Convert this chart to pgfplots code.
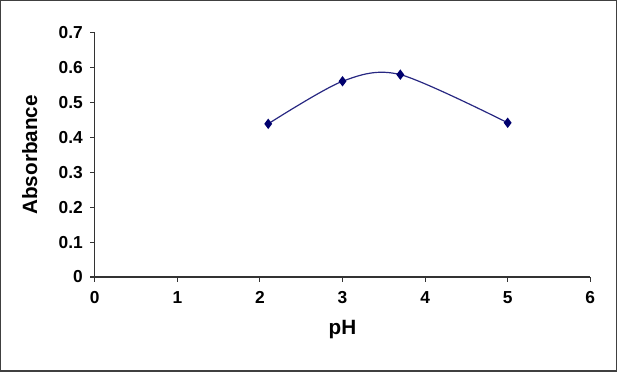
\documentclass[border=0pt]{standalone}
\usepackage{pgfplots}
\pgfplotsset{compat=1.18}
\usepackage{fontspec}
\setmainfont{Liberation Sans}
\definecolor{linecol}{RGB}{40,40,130}
\definecolor{markcol}{RGB}{0,0,110}
\begin{document}
\begin{tikzpicture}
\draw[black!75, line width=1.1pt] (-70.5pt,-70.5pt) rectangle (390.75pt,207pt);
\begin{axis}[
  at={(0pt,0pt)}, anchor=origin,
  scale only axis,
  width=371.25pt, height=183pt,
  xmin=0, xmax=6, ymin=0, ymax=0.7,
  axis x line*=bottom, axis y line*=left,
  axis line style={black!80, line width=0.9pt},
  xtick={0,1,...,6},
  ytick={0,0.1,...,0.7},
  yticklabel style={/pgf/number format/fixed, /pgf/number format/precision=1, xshift=-2pt},
  xticklabel style={yshift=-4pt},
  tick style={black!80, line width=0.8pt},
  tick align=outside,
  major tick length=3.5pt,
  /pgf/number format/assume math mode=true,
  ticklabel style={font=\fontsize{13}{15}\selectfont\bfseries},
  xlabel={pH}, ylabel={Absorbance},
  label style={font=\fontsize{15.5}{17}\selectfont\bfseries},
  xlabel style={at={(rel axis cs:0.5,-0.2172)}, anchor=center},
  ylabel style={at={(rel axis cs:-0.1313,0.5)}, anchor=center},
  clip=false,
]
\addplot[linecol, line width=0.9pt, smooth, mark=diamond*, mark size=3.2pt,
  mark options={fill=markcol, draw=markcol, solid}]
  coordinates {(2.1,0.439) (3.0,0.561) (3.7,0.580) (5.0,0.442)};
\end{axis}
\end{tikzpicture}
\end{document}
